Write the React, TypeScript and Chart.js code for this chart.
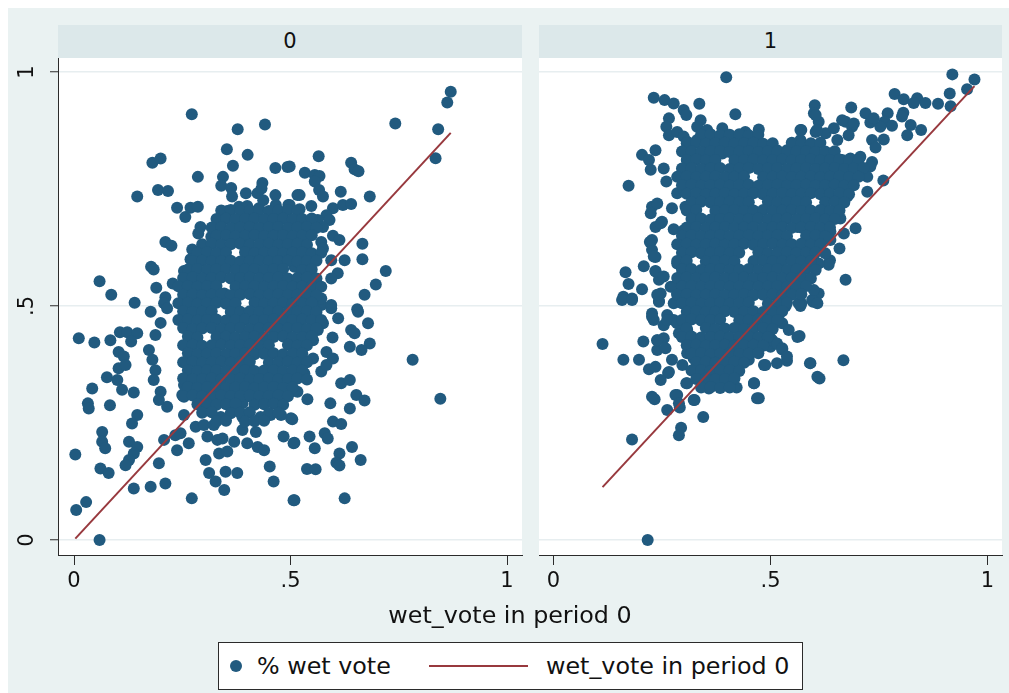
import React, { useEffect, useRef } from 'react';
import { Chart, registerables } from 'chart.js';

Chart.register(...registerables);

// ---------- text ----------
const panelLabels = ['0', '1'];
const tickValues = [0, 0.5, 1];
const tickLabels = ['0', '.5', '1'];
const xTitle = 'wet_vote in period 0';
const legendLabels = ['% wet vote', 'wet_vote in period 0'];

// ---------- fitted reference line (wet_vote in period 0 against itself) ----------
const fitLine0 = [0.003, 0.87];
const fitLine1 = [0.113, 0.97];

// ---------- panel 0 : scattered points ----------
const panel0Outer: number[][] = [
  [0.272,0.910],[0.378,0.878],[0.441,0.888],[0.353,0.835],[0.401,0.823],[0.367,0.800],[0.465,0.795],[0.493,0.797],
  [0.181,0.806],[0.200,0.815],[0.286,0.776],[0.344,0.776],[0.340,0.757],[0.363,0.752],[0.365,0.734],[0.146,0.734],
  [0.194,0.748],[0.217,0.746],[0.238,0.710],[0.257,0.690],[0.269,0.710],[0.286,0.712],[0.397,0.741],[0.424,0.741],
  [0.435,0.763],[0.433,0.751],[0.465,0.737],[0.466,0.716],[0.495,0.716],[0.516,0.737],[0.354,0.703],[0.381,0.712],
  [0.400,0.714],[0.427,0.709],[0.437,0.726],[0.292,0.669],[0.287,0.655],[0.317,0.648],[0.211,0.637],[0.225,0.629],
  [0.273,0.621],[0.269,0.600],[0.178,0.584],[0.184,0.578],[0.254,0.575],[0.059,0.553],[0.086,0.524],[0.140,0.507],
  [0.190,0.539],[0.228,0.548],[0.211,0.519],[0.208,0.506],[0.254,0.529],[0.263,0.514],[0.277,0.556],[0.294,0.545],
  [0.297,0.516],[0.323,0.547],[0.347,0.527],
  [0.011,0.431],[0.047,0.422],[0.084,0.427],[0.106,0.444],[0.123,0.444],[0.146,0.442],[0.132,0.424],[0.103,0.402],
  [0.115,0.392],[0.103,0.367],[0.119,0.374],[0.076,0.348],[0.100,0.342],[0.111,0.321],[0.042,0.324],[0.032,0.292],
  [0.034,0.281],[0.083,0.288],[0.138,0.315],[0.177,0.488],[0.200,0.464],[0.215,0.495],[0.188,0.438],[0.173,0.406],
  [0.181,0.385],[0.188,0.363],[0.184,0.342],[0.146,0.267],[0.134,0.249],[0.065,0.231],[0.065,0.210],[0.072,0.196],
  [0.127,0.210],[0.146,0.199],[0.138,0.185],[0.127,0.171],[0.119,0.160],[0.061,0.153],[0.080,0.143],[0.003,0.183],
  [0.196,0.164],[0.138,0.110],[0.177,0.114],[0.211,0.121],[0.272,0.089],[0.005,0.064],[0.028,0.081],[0.059,0.000],
  [0.200,0.317],[0.215,0.285],[0.196,0.299],[0.208,0.214],[0.234,0.224],[0.238,0.192],[0.246,0.228],[0.254,0.267],
  [0.265,0.207],[0.250,0.310],[0.269,0.328],[0.254,0.331],[0.304,0.171],[0.312,0.143],[0.327,0.125],[0.347,0.107],
  [0.350,0.146],[0.377,0.143],[0.308,0.221],[0.331,0.214],[0.343,0.217],[0.335,0.185],[0.354,0.189],[0.370,0.210],
  [0.389,0.235],[0.400,0.207],[0.420,0.231],[0.424,0.199],[0.439,0.192],[0.452,0.157],[0.461,0.125],[0.281,0.242],
  [0.300,0.246],[0.323,0.246],[0.339,0.263],[0.389,0.263],[0.431,0.263],[0.454,0.267],[0.478,0.267],[0.501,0.260],
  [0.484,0.221],[0.507,0.207],[0.507,0.085],[0.347,0.306],[0.362,0.285],[0.389,0.292],[0.408,0.306],[0.439,0.310],
  [0.474,0.303],[0.493,0.313],[0.516,0.317],[0.254,0.306],[0.300,0.306],[0.323,0.292],
  [0.656,0.488],[0.679,0.463],[0.640,0.449],[0.648,0.442],[0.683,0.420],[0.664,0.406],[0.637,0.413],[0.597,0.433],
  [0.594,0.495],[0.571,0.502],[0.548,0.499],[0.610,0.474],[0.575,0.463],[0.563,0.449],[0.532,0.449],[0.552,0.427],
  [0.583,0.402],[0.598,0.388],[0.571,0.360],[0.583,0.374],[0.528,0.388],[0.552,0.388],[0.532,0.356],[0.782,0.385],
  [0.846,0.302],[0.617,0.335],[0.637,0.342],[0.652,0.310],[0.671,0.298],[0.637,0.281],[0.592,0.292],[0.539,0.301],
  [0.507,0.319],[0.504,0.258],[0.598,0.253],[0.617,0.248],[0.579,0.228],[0.586,0.217],[0.544,0.221],[0.556,0.196],
  [0.509,0.208],[0.642,0.199],[0.662,0.171],[0.613,0.185],[0.606,0.165],[0.613,0.159],[0.538,0.152],[0.558,0.151],
  [0.509,0.085],[0.625,0.089],
  [0.870,0.958],[0.862,0.935],[0.742,0.890],[0.841,0.878],[0.835,0.816],[0.565,0.820],[0.498,0.798],[0.533,0.785],
  [0.556,0.780],[0.567,0.778],[0.556,0.766],[0.640,0.806],[0.648,0.792],[0.657,0.788],[0.566,0.748],[0.575,0.734],
  [0.521,0.737],[0.616,0.744],[0.683,0.734],[0.548,0.714],[0.521,0.707],[0.498,0.716],[0.598,0.709],[0.621,0.716],
  [0.640,0.718],[0.583,0.694],[0.563,0.684],[0.590,0.684],[0.575,0.669],[0.528,0.677],[0.505,0.677],[0.544,0.655],
  [0.598,0.650],[0.613,0.641],[0.571,0.637],[0.575,0.623],[0.666,0.633],[0.666,0.600],[0.528,0.620],[0.540,0.598],
  [0.513,0.598],[0.625,0.598],[0.594,0.598],[0.609,0.570],[0.594,0.559],[0.720,0.575],[0.697,0.546],[0.671,0.524],
  [0.654,0.493],[0.571,0.516],[0.544,0.527],[0.552,0.502],[0.594,0.502],[0.521,0.563],[0.540,0.570],[0.509,0.584],
  [0.521,0.527],[0.505,0.541],
];

// ---------- panel 0 : dense centre of the cloud ----------
const panel0Core: number[][] = [
  [0.340,0.704],[0.362,0.705],[0.384,0.703],[0.406,0.704],[0.428,0.705],[0.450,0.703],[0.472,0.704],[0.494,0.705],[0.516,0.703],
  [0.329,0.686],[0.351,0.687],[0.373,0.685],[0.395,0.686],[0.417,0.687],[0.439,0.685],[0.461,0.686],[0.483,0.687],[0.505,0.685],[0.527,0.686],[0.549,0.687],
  [0.318,0.668],[0.340,0.669],[0.362,0.667],[0.384,0.668],[0.406,0.669],[0.428,0.667],[0.450,0.668],[0.472,0.669],[0.494,0.667],[0.516,0.668],[0.538,0.669],[0.560,0.667],
  [0.329,0.650],[0.351,0.651],[0.373,0.649],[0.395,0.650],[0.417,0.651],[0.439,0.649],[0.461,0.650],[0.483,0.651],[0.505,0.649],[0.527,0.650],[0.549,0.651],
  [0.296,0.632],[0.318,0.633],[0.340,0.631],[0.362,0.632],[0.384,0.633],[0.406,0.631],[0.428,0.632],[0.450,0.633],[0.472,0.631],[0.494,0.632],[0.516,0.633],[0.538,0.631],
  [0.285,0.614],[0.307,0.615],[0.329,0.613],[0.351,0.614],[0.395,0.615],[0.417,0.613],[0.439,0.614],[0.461,0.615],[0.483,0.613],[0.505,0.614],[0.527,0.615],[0.549,0.613],[0.571,0.614],
  [0.274,0.596],[0.296,0.597],[0.318,0.595],[0.340,0.596],[0.362,0.597],[0.384,0.595],[0.406,0.596],[0.428,0.597],[0.450,0.595],[0.472,0.596],[0.494,0.597],[0.516,0.595],[0.538,0.596],[0.560,0.597],
  [0.263,0.578],[0.285,0.579],[0.307,0.577],[0.329,0.578],[0.351,0.579],[0.373,0.577],[0.395,0.578],[0.417,0.579],[0.439,0.577],[0.461,0.578],[0.483,0.579],[0.527,0.577],[0.549,0.578],
  [0.252,0.560],[0.274,0.561],[0.296,0.559],[0.318,0.560],[0.340,0.561],[0.362,0.559],[0.384,0.560],[0.406,0.561],[0.428,0.559],[0.450,0.560],[0.472,0.561],[0.494,0.559],[0.516,0.560],[0.538,0.561],[0.560,0.559],
  [0.241,0.542],[0.263,0.543],[0.285,0.541],[0.307,0.542],[0.329,0.543],[0.373,0.541],[0.395,0.542],[0.417,0.543],[0.439,0.541],[0.461,0.542],[0.483,0.543],[0.505,0.541],[0.527,0.542],[0.549,0.543],[0.571,0.541],
  [0.252,0.524],[0.274,0.525],[0.296,0.523],[0.318,0.524],[0.340,0.525],[0.362,0.523],[0.384,0.524],[0.406,0.525],[0.428,0.523],[0.450,0.524],[0.472,0.525],[0.494,0.523],[0.516,0.524],[0.538,0.525],[0.560,0.523],
  [0.241,0.506],[0.263,0.507],[0.285,0.505],[0.307,0.506],[0.329,0.507],[0.351,0.505],[0.373,0.506],[0.417,0.507],[0.439,0.505],[0.461,0.506],[0.483,0.507],[0.505,0.505],[0.527,0.506],[0.549,0.507],
  [0.252,0.489],[0.274,0.487],[0.296,0.488],[0.318,0.489],[0.362,0.487],[0.384,0.488],[0.406,0.489],[0.428,0.487],[0.450,0.488],[0.472,0.489],[0.494,0.487],[0.516,0.488],[0.538,0.489],[0.560,0.487],
  [0.241,0.470],[0.263,0.471],[0.285,0.469],[0.307,0.470],[0.329,0.471],[0.351,0.469],[0.373,0.470],[0.395,0.471],[0.417,0.469],[0.439,0.470],[0.461,0.471],[0.483,0.469],[0.505,0.470],[0.527,0.471],[0.549,0.469],[0.571,0.470],
  [0.252,0.453],[0.274,0.451],[0.296,0.452],[0.318,0.453],[0.340,0.451],[0.362,0.452],[0.384,0.453],[0.406,0.451],[0.428,0.452],[0.450,0.453],[0.472,0.451],[0.494,0.452],[0.516,0.453],[0.538,0.451],[0.560,0.452],
  [0.263,0.435],[0.285,0.433],[0.329,0.434],[0.351,0.435],[0.373,0.433],[0.395,0.434],[0.417,0.435],[0.439,0.433],[0.461,0.434],[0.483,0.435],[0.505,0.433],[0.527,0.434],[0.549,0.435],
  [0.252,0.416],[0.274,0.417],[0.296,0.415],[0.318,0.416],[0.340,0.417],[0.362,0.415],[0.384,0.416],[0.406,0.417],[0.428,0.415],[0.450,0.416],[0.494,0.417],[0.516,0.415],[0.538,0.416],
  [0.263,0.399],[0.285,0.397],[0.307,0.398],[0.329,0.399],[0.351,0.397],[0.373,0.398],[0.395,0.399],[0.417,0.397],[0.439,0.398],[0.461,0.399],[0.483,0.397],[0.505,0.398],[0.527,0.399],
  [0.252,0.380],[0.274,0.381],[0.296,0.379],[0.318,0.380],[0.340,0.381],[0.362,0.379],[0.384,0.380],[0.406,0.381],[0.450,0.379],[0.472,0.380],[0.494,0.381],[0.516,0.379],[0.538,0.380],
  [0.263,0.363],[0.285,0.361],[0.307,0.362],[0.329,0.363],[0.351,0.361],[0.373,0.362],[0.395,0.363],[0.417,0.361],[0.439,0.362],[0.461,0.363],[0.483,0.361],[0.505,0.362],[0.527,0.363],
  [0.252,0.345],[0.274,0.343],[0.296,0.344],[0.318,0.345],[0.340,0.343],[0.362,0.344],[0.384,0.345],[0.406,0.343],[0.428,0.344],[0.450,0.345],[0.472,0.343],[0.494,0.344],[0.516,0.345],[0.538,0.343],
  [0.263,0.327],[0.285,0.325],[0.307,0.326],[0.329,0.327],[0.351,0.325],[0.373,0.326],[0.395,0.327],[0.417,0.325],[0.439,0.326],[0.461,0.327],[0.483,0.325],[0.505,0.326],
  [0.252,0.308],[0.274,0.309],[0.296,0.307],[0.318,0.308],[0.340,0.309],[0.362,0.307],[0.384,0.308],[0.406,0.309],[0.428,0.307],[0.450,0.308],[0.472,0.309],[0.494,0.307],
  [0.285,0.290],[0.307,0.291],[0.329,0.289],[0.351,0.290],[0.373,0.291],[0.417,0.289],[0.439,0.290],[0.461,0.291],[0.483,0.289],
  [0.296,0.272],[0.318,0.273],[0.362,0.271],[0.384,0.272],[0.406,0.273],[0.450,0.271],[0.472,0.272],
  [0.329,0.254],[0.351,0.255],[0.395,0.253],[0.417,0.254],[0.439,0.255],
];

// ---------- panel 1 : scattered points ----------
const panel1Outer: number[][] = [
  [0.398,0.989],[0.231,0.945],[0.256,0.940],[0.277,0.933],[0.300,0.919],[0.306,0.908],[0.336,0.932],[0.419,0.910],
  [0.266,0.901],[0.260,0.883],[0.266,0.865],[0.285,0.872],[0.300,0.862],[0.308,0.851],[0.339,0.897],[0.331,0.883],
  [0.354,0.876],[0.389,0.880],[0.400,0.858],[0.415,0.855],[0.442,0.872],[0.473,0.877],[0.465,0.848],[0.331,0.855],
  [0.354,0.851],[0.369,0.833],[0.389,0.826],[0.235,0.833],[0.204,0.823],[0.220,0.812],[0.224,0.791],[0.254,0.794],
  [0.260,0.766],[0.173,0.757],[0.308,0.812],[0.323,0.823],[0.312,0.787],[0.285,0.741],[0.300,0.748],[0.273,0.709],
  [0.304,0.712],[0.323,0.698],[0.227,0.712],[0.224,0.698],[0.250,0.680],[0.235,0.669],[0.277,0.664],[0.300,0.662],
  [0.308,0.634],[0.222,0.637],[0.227,0.620],[0.235,0.605],[0.166,0.572],[0.173,0.547],[0.204,0.536],[0.161,0.520],
  [0.181,0.516],[0.208,0.585],[0.235,0.575],[0.243,0.556],[0.247,0.527],[0.243,0.511],[0.300,0.627],[0.285,0.591],
  [0.297,0.570],[0.270,0.541],[0.285,0.527],[0.277,0.506],
  [0.113,0.419],[0.161,0.385],[0.197,0.385],[0.220,0.365],[0.207,0.424],[0.239,0.427],[0.254,0.431],[0.239,0.406],
  [0.258,0.410],[0.227,0.484],[0.231,0.470],[0.262,0.481],[0.277,0.470],[0.254,0.459],[0.158,0.513],[0.181,0.513],
  [0.243,0.509],[0.289,0.442],[0.308,0.449],[0.300,0.470],[0.323,0.491],[0.273,0.385],[0.297,0.374],[0.264,0.357],
  [0.247,0.342],[0.306,0.335],[0.233,0.301],[0.285,0.310],[0.262,0.278],[0.291,0.283],[0.325,0.299],[0.345,0.263],
  [0.181,0.215],[0.294,0.240],[0.289,0.224],[0.217,0.000],[0.308,0.399],[0.323,0.388],[0.319,0.420],[0.354,0.385],
  [0.369,0.381],[0.385,0.370],[0.404,0.370],[0.368,0.357],[0.358,0.324],[0.385,0.328],[0.400,0.331],[0.422,0.326],
  [0.462,0.335],[0.473,0.303],[0.485,0.374],[0.431,0.388],[0.450,0.385],[0.435,0.413],[0.462,0.431],[0.500,0.431],
  [0.500,0.413],[0.508,0.470],
  [0.535,0.500],[0.569,0.500],[0.598,0.509],[0.519,0.481],[0.512,0.466],[0.527,0.463],[0.542,0.449],[0.567,0.436],
  [0.504,0.427],[0.512,0.420],[0.527,0.407],[0.515,0.378],[0.538,0.383],[0.591,0.378],[0.613,0.345],[0.668,0.384],
  [0.919,0.995],[0.970,0.984],[0.953,0.963],[0.913,0.954],[0.915,0.927],[0.886,0.932],[0.786,0.953],[0.807,0.942],
  [0.838,0.944],[0.857,0.934],[0.830,0.934],[0.806,0.913],[0.803,0.905],[0.770,0.912],[0.763,0.894],[0.780,0.885],
  [0.753,0.883],[0.730,0.892],[0.719,0.912],[0.738,0.901],[0.823,0.887],[0.815,0.865],[0.847,0.876],[0.686,0.924],
  [0.673,0.894],[0.688,0.883],[0.665,0.897],[0.680,0.865],[0.692,0.890],[0.602,0.929],[0.600,0.912],[0.611,0.894],
  [0.571,0.876],[0.604,0.872],[0.627,0.869],[0.646,0.880],[0.654,0.855],[0.734,0.855],[0.761,0.856],[0.742,0.839],
  [0.569,0.855],[0.554,0.844],[0.515,0.833],[0.538,0.833],[0.585,0.812],[0.615,0.798],[0.646,0.812],[0.665,0.812],
  [0.684,0.815],[0.707,0.819],[0.734,0.808],[0.730,0.798],[0.723,0.776],[0.760,0.768],[0.654,0.791],[0.669,0.780],
  [0.684,0.784],[0.631,0.784],[0.638,0.762],[0.661,0.762],[0.684,0.755],[0.677,0.734],[0.723,0.744],[0.654,0.712],
  [0.627,0.698],[0.661,0.687],[0.611,0.655],[0.638,0.659],[0.669,0.655],[0.696,0.666],[0.577,0.691],[0.562,0.669],
  [0.592,0.641],[0.577,0.627],[0.585,0.613],[0.600,0.598],[0.637,0.598],[0.634,0.588],[0.659,0.623],[0.638,0.641],
  [0.673,0.556],[0.562,0.591],[0.546,0.577],[0.573,0.548],[0.611,0.527],[0.596,0.513],[0.571,0.506],[0.531,0.513],
  [0.531,0.499],[0.515,0.584],[0.508,0.527],
  [0.604,0.908],[0.569,0.876],[0.607,0.876],[0.239,0.719],[0.247,0.677],[0.227,0.641],[0.231,0.606],[0.235,0.574],
  [0.254,0.563],[0.277,0.541],[0.239,0.524],[0.227,0.477],[0.262,0.470],[0.285,0.463],[0.239,0.427],[0.235,0.370],
  [0.266,0.359],[0.227,0.306],[0.281,0.310],[0.308,0.335],[0.323,0.299],[0.289,0.292],[0.485,0.434],[0.515,0.420],
  [0.527,0.410],[0.538,0.392],[0.562,0.434],[0.488,0.374],[0.462,0.335],[0.469,0.303],[0.592,0.378],[0.608,0.349],
  [0.562,0.627],[0.585,0.591],[0.573,0.548],[0.565,0.506],[0.600,0.534],[0.608,0.506],[0.611,0.591],
];

// ---------- panel 1 : dense centre of the cloud ----------
const panel1Core: number[][] = [
  [0.340,0.866],[0.362,0.867],[0.384,0.865],[0.406,0.866],[0.428,0.867],[0.450,0.865],[0.472,0.866],
  [0.307,0.848],[0.329,0.849],[0.351,0.847],[0.373,0.848],[0.395,0.849],[0.417,0.847],[0.439,0.848],[0.461,0.849],[0.483,0.847],[0.505,0.848],[0.549,0.849],[0.571,0.847],[0.593,0.848],[0.615,0.849],
  [0.296,0.830],[0.318,0.831],[0.340,0.829],[0.362,0.830],[0.384,0.831],[0.406,0.829],[0.428,0.830],[0.450,0.831],[0.472,0.829],[0.494,0.830],[0.516,0.831],[0.538,0.829],[0.560,0.830],[0.582,0.831],[0.604,0.829],[0.626,0.830],[0.648,0.831],
  [0.307,0.812],[0.329,0.813],[0.351,0.811],[0.373,0.812],[0.417,0.811],[0.439,0.812],[0.461,0.813],[0.483,0.811],[0.505,0.812],[0.527,0.813],[0.549,0.811],[0.571,0.812],[0.593,0.813],[0.615,0.811],[0.637,0.812],[0.659,0.813],[0.681,0.811],[0.703,0.812],
  [0.296,0.794],[0.318,0.795],[0.340,0.793],[0.362,0.794],[0.384,0.795],[0.406,0.793],[0.428,0.794],[0.450,0.795],[0.472,0.793],[0.494,0.794],[0.516,0.795],[0.538,0.793],[0.560,0.794],[0.582,0.795],[0.604,0.793],[0.626,0.794],[0.648,0.795],[0.670,0.793],[0.692,0.794],[0.714,0.795],
  [0.285,0.776],[0.307,0.777],[0.329,0.775],[0.351,0.776],[0.373,0.777],[0.395,0.775],[0.417,0.776],[0.439,0.777],[0.483,0.775],[0.505,0.776],[0.527,0.777],[0.549,0.775],[0.571,0.776],[0.593,0.777],[0.615,0.775],[0.637,0.776],[0.659,0.777],[0.681,0.775],[0.703,0.776],
  [0.296,0.758],[0.318,0.759],[0.340,0.757],[0.362,0.758],[0.384,0.759],[0.406,0.757],[0.428,0.758],[0.450,0.759],[0.472,0.757],[0.494,0.758],[0.516,0.759],[0.538,0.757],[0.560,0.758],[0.582,0.759],[0.604,0.757],[0.626,0.758],[0.648,0.759],[0.670,0.757],[0.692,0.758],
  [0.307,0.740],[0.329,0.741],[0.351,0.739],[0.373,0.740],[0.395,0.741],[0.417,0.739],[0.439,0.740],[0.461,0.741],[0.483,0.739],[0.505,0.740],[0.527,0.741],[0.549,0.739],[0.571,0.740],[0.593,0.741],[0.615,0.739],[0.637,0.740],[0.659,0.741],[0.681,0.739],
  [0.318,0.722],[0.340,0.723],[0.362,0.721],[0.384,0.722],[0.406,0.723],[0.428,0.721],[0.450,0.722],[0.494,0.723],[0.516,0.721],[0.538,0.722],[0.560,0.723],[0.582,0.721],[0.626,0.722],[0.648,0.723],[0.670,0.721],
  [0.307,0.704],[0.329,0.705],[0.373,0.703],[0.395,0.704],[0.417,0.705],[0.439,0.703],[0.461,0.704],[0.483,0.705],[0.505,0.703],[0.527,0.704],[0.549,0.705],[0.571,0.703],[0.593,0.704],[0.615,0.705],[0.637,0.703],[0.659,0.704],
  [0.318,0.686],[0.340,0.687],[0.362,0.685],[0.384,0.686],[0.406,0.687],[0.428,0.685],[0.450,0.686],[0.472,0.687],[0.494,0.685],[0.516,0.686],[0.538,0.687],[0.560,0.685],[0.582,0.686],[0.604,0.687],[0.626,0.685],[0.648,0.686],
  [0.307,0.668],[0.329,0.669],[0.351,0.667],[0.373,0.668],[0.395,0.669],[0.417,0.667],[0.439,0.668],[0.461,0.669],[0.483,0.667],[0.505,0.668],[0.527,0.669],[0.549,0.667],[0.571,0.668],[0.593,0.669],[0.615,0.667],[0.637,0.668],
  [0.296,0.650],[0.318,0.651],[0.340,0.649],[0.362,0.650],[0.384,0.651],[0.406,0.649],[0.428,0.650],[0.450,0.651],[0.472,0.649],[0.494,0.650],[0.516,0.651],[0.538,0.649],[0.582,0.650],[0.604,0.651],[0.626,0.649],
  [0.285,0.632],[0.307,0.633],[0.329,0.631],[0.351,0.632],[0.373,0.633],[0.395,0.631],[0.417,0.632],[0.439,0.633],[0.461,0.631],[0.483,0.632],[0.505,0.633],[0.527,0.631],[0.549,0.632],[0.571,0.633],[0.593,0.631],[0.615,0.632],
  [0.296,0.614],[0.318,0.615],[0.340,0.613],[0.362,0.614],[0.384,0.615],[0.406,0.613],[0.428,0.614],[0.472,0.615],[0.494,0.613],[0.516,0.614],[0.538,0.615],[0.560,0.613],[0.582,0.614],[0.604,0.615],[0.626,0.613],
  [0.285,0.596],[0.307,0.597],[0.351,0.595],[0.373,0.596],[0.395,0.597],[0.417,0.595],[0.461,0.596],[0.483,0.597],[0.505,0.595],[0.527,0.596],[0.549,0.597],[0.571,0.595],[0.593,0.596],
  [0.296,0.578],[0.318,0.579],[0.340,0.577],[0.362,0.578],[0.384,0.579],[0.406,0.577],[0.428,0.578],[0.450,0.579],[0.472,0.577],[0.494,0.578],[0.516,0.579],[0.538,0.577],[0.560,0.578],[0.582,0.579],[0.604,0.577],
  [0.285,0.560],[0.307,0.561],[0.329,0.559],[0.351,0.560],[0.373,0.561],[0.395,0.559],[0.417,0.560],[0.439,0.561],[0.461,0.559],[0.483,0.560],[0.505,0.561],[0.527,0.559],[0.549,0.560],[0.571,0.561],[0.593,0.559],
  [0.296,0.542],[0.318,0.543],[0.340,0.541],[0.362,0.542],[0.384,0.543],[0.406,0.541],[0.428,0.542],[0.450,0.543],[0.472,0.541],[0.494,0.542],[0.516,0.543],[0.538,0.541],[0.560,0.542],[0.582,0.543],
  [0.285,0.524],[0.307,0.525],[0.329,0.523],[0.351,0.524],[0.373,0.525],[0.395,0.523],[0.417,0.524],[0.439,0.525],[0.461,0.523],[0.483,0.524],[0.505,0.525],[0.527,0.523],[0.549,0.524],[0.571,0.525],
  [0.296,0.506],[0.318,0.507],[0.340,0.505],[0.362,0.506],[0.384,0.507],[0.406,0.505],[0.428,0.506],[0.450,0.507],[0.494,0.505],[0.516,0.506],[0.538,0.507],
  [0.307,0.488],[0.329,0.489],[0.351,0.487],[0.373,0.488],[0.395,0.489],[0.417,0.487],[0.439,0.488],[0.461,0.489],[0.483,0.487],[0.505,0.488],[0.527,0.489],
  [0.296,0.470],[0.318,0.471],[0.340,0.469],[0.362,0.470],[0.384,0.471],[0.428,0.469],[0.450,0.470],[0.472,0.471],[0.494,0.469],[0.516,0.470],
  [0.307,0.452],[0.351,0.453],[0.373,0.451],[0.395,0.452],[0.417,0.453],[0.439,0.451],[0.461,0.452],[0.483,0.453],[0.505,0.451],
  [0.296,0.434],[0.318,0.435],[0.340,0.433],[0.362,0.434],[0.384,0.435],[0.406,0.433],[0.428,0.434],[0.450,0.435],[0.472,0.433],[0.494,0.434],
  [0.307,0.416],[0.329,0.417],[0.351,0.415],[0.373,0.416],[0.395,0.417],[0.417,0.415],[0.439,0.416],[0.461,0.417],[0.483,0.415],
  [0.318,0.398],[0.340,0.399],[0.362,0.397],[0.384,0.398],[0.406,0.399],[0.428,0.397],[0.450,0.398],[0.472,0.399],
  [0.329,0.380],[0.351,0.381],[0.373,0.379],[0.395,0.380],[0.417,0.381],[0.439,0.379],
  [0.318,0.362],[0.340,0.363],[0.362,0.361],[0.384,0.362],[0.406,0.363],[0.428,0.361],
  [0.329,0.344],[0.351,0.345],[0.373,0.343],[0.395,0.344],[0.417,0.345],
  [0.340,0.326],[0.362,0.327],[0.384,0.325],[0.406,0.326],
];

// ---------- axis ranges ----------
const Y_RANGE = [-0.032, 1.03];
const X0_RANGE = [-0.037, 1.0346];
const X1_RANGE = [-0.0334, 1.0334];

// ---------- style ----------
const FONT = "'DejaVu Sans', 'Liberation Sans', sans-serif";
const TEXT = '#111111';
const MARKER = '#215a7f';
const FIT = '#98393e';
const AXIS = '#2b2b2b';
const GRID = '#e7eef0';
const OUTER_BG = '#eaf2f2';
const STRIP_BG = '#dce8ea';
const TICK_SIZE = 21;
const BIG_SIZE = 23.8;

const yLabelPlugin = {
  id: 'yTickLabels',
  afterDraw(chart: any) {
    const { ctx } = chart;
    const y = chart.scales.y;
    ctx.save();
    ctx.font = `${TICK_SIZE}px ${FONT}`;
    ctx.fillStyle = TEXT;
    ctx.textAlign = 'center';
    ctx.textBaseline = 'middle';
    tickValues.forEach((v, i) => {
      ctx.save();
      ctx.translate(20, y.getPixelForValue(v));
      ctx.rotate(-Math.PI / 2);
      ctx.fillText(tickLabels[i], 0, 0);
      ctx.restore();
    });
    ctx.restore();
  },
};

function makeChart(canvas: HTMLCanvasElement, pts: number[][], fit: number[], xr: number[], withY: boolean) {
  const setTicks = (scale: any) => {
    scale.ticks = tickValues.map((v) => ({ value: v }));
  };
  return new Chart(canvas, {
    type: 'scatter',
    data: {
      datasets: [
        {
          label: legendLabels[1],
          data: fit.map((v) => ({ x: v, y: v })),
          showLine: true,
          borderColor: FIT,
          borderWidth: 2,
          pointRadius: 0,
          order: 0,
        },
        {
          label: legendLabels[0],
          data: pts.map(([x, y]) => ({ x, y })),
          backgroundColor: MARKER,
          borderWidth: 0,
          pointRadius: 6,
          pointHoverRadius: 6,
          order: 1,
        },
      ],
    } as any,
    options: {
      responsive: false,
      animation: false,
      events: [],
      layout: { padding: { left: 0, right: 2, top: 0, bottom: 0 }, autoPadding: false },
      plugins: { legend: { display: false }, tooltip: { enabled: false } },
      scales: {
        x: {
          type: 'linear',
          min: xr[0],
          max: xr[1],
          afterBuildTicks: setTicks,
          afterFit: (s: any) => { s.height = 48; },
          grid: { drawOnChartArea: false, drawTicks: true, tickLength: 10, tickColor: AXIS, tickWidth: 1 },
          border: { display: true, color: AXIS, width: 1 },
          ticks: {
            autoSkip: false,
            maxRotation: 0,
            padding: 4,
            color: TEXT,
            font: { family: FONT, size: TICK_SIZE },
            callback: (v: any) => tickLabels[tickValues.indexOf(Number(v))] ?? '',
          },
        },
        y: {
          type: 'linear',
          min: Y_RANGE[0],
          max: Y_RANGE[1],
          afterBuildTicks: setTicks,
          afterFit: (s: any) => { s.width = withY ? 50 : 0; },
          grid: { color: GRID, lineWidth: 1.5, drawTicks: withY, tickLength: 8, tickColor: AXIS, tickWidth: 1 },
          border: { display: withY, color: AXIS, width: 1 },
          ticks: { display: false },
        },
      },
    } as any,
    plugins: withY ? [yLabelPlugin] : [],
  });
}

export default function App() {
  const ref0 = useRef<HTMLCanvasElement>(null);
  const ref1 = useRef<HTMLCanvasElement>(null);

  useEffect(() => {
    const c0 = makeChart(ref0.current!, [...panel0Outer, ...panel0Core], fitLine0, X0_RANGE, true);
    const c1 = makeChart(ref1.current!, [...panel1Outer, ...panel1Core], fitLine1, X1_RANGE, false);
    return () => {
      c0.destroy();
      c1.destroy();
    };
  }, []);

  const strip = (left: number, width: number, text: string) => (
    <div
      style={{
        position: 'absolute', left, top: 17, width, height: 33, background: STRIP_BG,
        font: `${TICK_SIZE}px ${FONT}`, color: TEXT, textAlign: 'center', lineHeight: '33px',
      }}
    >
      {text}
    </div>
  );

  return (
    <div
      style={{
        position: 'fixed', left: 8, top: 8, width: 1001, height: 685, background: OUTER_BG,
        overflow: 'hidden', fontFamily: FONT,
      }}
    >
      {strip(50, 464, panelLabels[0])}
      {strip(531, 463, panelLabels[1])}
      <div style={{ position: 'absolute', left: 50, top: 50, width: 464, height: 497, background: '#fff' }} />
      <div style={{ position: 'absolute', left: 531, top: 50, width: 463, height: 497, background: '#fff' }} />
      <canvas ref={ref0} width={516} height={545} style={{ position: 'absolute', left: 0, top: 50 }} />
      <canvas ref={ref1} width={465} height={545} style={{ position: 'absolute', left: 531, top: 50 }} />
      <div
        style={{
          position: 'absolute', left: 0, top: 592, width: 1004, textAlign: 'center',
          font: `${BIG_SIZE}px ${FONT}`, color: TEXT, lineHeight: '30px',
        }}
      >
        {xTitle}
      </div>
      <div
        style={{
          position: 'absolute', left: 210, top: 634, width: 585, height: 48, boxSizing: 'border-box',
          border: `1px solid ${AXIS}`, background: '#fff',
        }}
      >
        <div style={{ position: 'absolute', left: 11, top: 17, width: 12, height: 12, borderRadius: 6, background: MARKER }} />
        <div style={{ position: 'absolute', left: 38, top: 7, font: `${BIG_SIZE}px ${FONT}`, color: TEXT, lineHeight: '32px', whiteSpace: 'nowrap' }}>
          {legendLabels[0]}
        </div>
        <div style={{ position: 'absolute', left: 210, top: 22, width: 99, height: 2, background: FIT }} />
        <div style={{ position: 'absolute', left: 327, top: 7, font: `${BIG_SIZE}px ${FONT}`, color: TEXT, lineHeight: '32px', whiteSpace: 'nowrap' }}>
          {legendLabels[1]}
        </div>
      </div>
    </div>
  );
}
